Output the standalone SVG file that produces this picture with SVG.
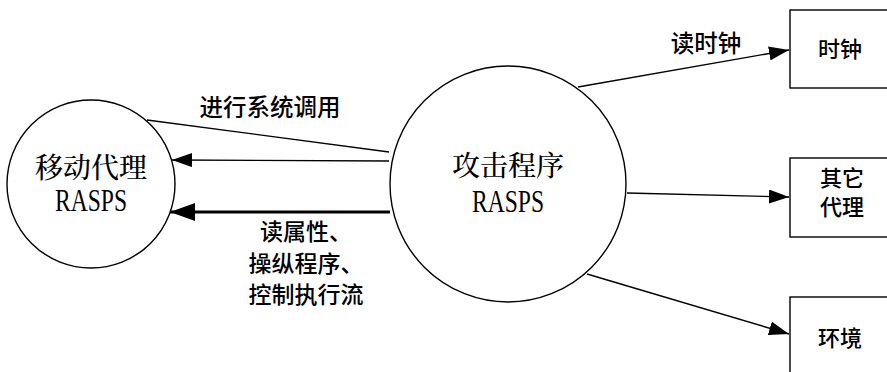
<svg xmlns="http://www.w3.org/2000/svg" width="887" height="372" viewBox="0 0 887 372">
<style>
.bg{fill:#fff}
.node{fill:#fff;stroke:#000;stroke-width:1.4}
.edge{stroke:#000;stroke-width:1.4;fill:none}
.thick{stroke:#000;stroke-width:3.2;fill:none}
.cn{font-family:"Noto Serif CJK SC","Noto Sans CJK SC",serif;font-size:28px;font-weight:500;fill:#000;text-anchor:middle}
.lat{font-family:"Liberation Serif",serif;font-size:31px;fill:#000;text-anchor:middle}
.lbl{font-family:"Noto Sans CJK SC",sans-serif;font-size:23.5px;font-weight:500;fill:#000;text-anchor:middle}
.lbs{font-size:23px}
.box{font-family:"Noto Sans CJK SC",sans-serif;font-size:22px;font-weight:500;fill:#000;text-anchor:middle}
</style>
<defs>
<marker id="ah" markerUnits="userSpaceOnUse" markerWidth="20" markerHeight="14" refX="20" refY="7" orient="auto"><path d="M0,0 L20,7 L0,14 z" fill="#000"/></marker>
<marker id="ahb" markerUnits="userSpaceOnUse" markerWidth="25" markerHeight="18" refX="25" refY="9" orient="auto"><path d="M0,0 L25,9 L0,18 z" fill="#000"/></marker>
</defs>
<rect class="bg" x="0" y="0" width="887" height="372"/>
<g id="connectors">
<line class="edge" x1="147" y1="120" x2="389" y2="152"/>
<line class="edge" x1="389" y1="161" x2="172" y2="160" marker-end="url(#ah)"/>
<line class="thick" x1="390" y1="212" x2="170" y2="212" marker-end="url(#ahb)"/>
<line class="edge" x1="578" y1="87" x2="789" y2="50" marker-end="url(#ah)"/>
<line class="edge" x1="627" y1="193" x2="789" y2="197" marker-end="url(#ah)"/>
<line class="edge" x1="587" y1="274" x2="789" y2="334" marker-end="url(#ah)"/>
<text class="lbl" x="270" y="116">进行系统调用</text>
<text class="lbl lbs" x="306" y="240">读属性、</text>
<text class="lbl lbs" x="306" y="271.5">操纵程序、</text>
<text class="lbl lbs" x="306" y="303">控制执行流</text>
<text class="lbl" x="706" y="52">读时钟</text>
</g>
<g id="mobile-agent">
<circle class="node" cx="91" cy="184" r="84"/>
<text class="cn" x="91" y="178">移动代理</text>
<text class="lat" x="91" y="211" textLength="72" lengthAdjust="spacingAndGlyphs">RASPS</text>
</g>
<g id="attack-program">
<circle class="node" cx="508" cy="184" r="118"/>
<text class="cn" x="508" y="176">攻击程序</text>
<text class="lat" x="508" y="212" textLength="72" lengthAdjust="spacingAndGlyphs">RASPS</text>
</g>
<g id="clock">
<rect class="node" x="790" y="10" width="110" height="78"/>
<text class="box" x="840" y="57">时钟</text>
</g>
<g id="other-agents">
<rect class="node" x="790" y="158" width="110" height="79"/>
<text class="box" x="842" y="186">其它</text>
<text class="box" x="842" y="215">代理</text>
</g>
<g id="environment">
<rect class="node" x="790" y="297" width="110" height="90"/>
<text class="box" x="840" y="346">环境</text>
</g>
</svg>
